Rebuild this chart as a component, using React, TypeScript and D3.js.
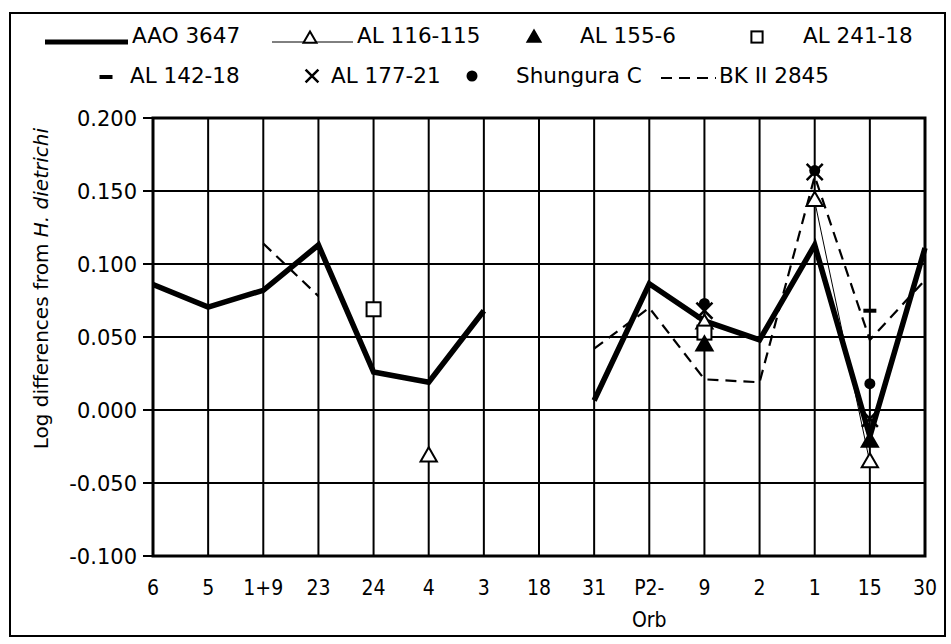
import React from 'react';
import * as d3 from 'd3';

// categories along the x axis (second line of a label after "-")
const categories = ['6', '5', '1+9', '23', '24', '4', '3', '18', '31', 'P2-Orb', '9', '2', '1', '15', '30'];
const yTicks = [-0.1, -0.05, 0, 0.05, 0.1, 0.15, 0.2];

// series values, one per category (null = no value)
const aao3647 = [0.086, 0.0705, 0.082, 0.113, 0.026, 0.019, 0.068, null, 0.0065, 0.0865, 0.061, 0.048, 0.113, -0.018, 0.111];
const bk2845 = [null, null, 0.114, 0.078, null, null, null, null, 0.042, 0.07, 0.021, 0.019, 0.16, 0.048, 0.089];
const al116_115 = [null, null, null, null, null, -0.032, null, null, null, null, 0.059, null, 0.143, -0.036, null];
const al155_6 = [null, null, null, null, null, null, null, null, null, null, 0.044, null, null, -0.022, null];
const al241_18 = [null, null, null, null, 0.069, null, null, null, null, null, 0.053, null, null, null, null];
const al142_18 = [null, null, null, null, null, null, null, null, null, null, null, null, null, 0.068, null];
const al177_21 = [null, null, null, null, null, null, null, null, null, null, 0.068, null, 0.163, -0.006, null];
const shunguraC = [null, null, null, null, null, null, null, null, null, null, 0.073, null, 0.164, 0.018, null];

const W = 951;
const H = 644;
const plot = { left: 153, right: 925, top: 118, bottom: 556 };
const font = '"DejaVu Sans", sans-serif';

function Marker({ kind, x, y, small }) {
  const k = small ? 0.8 : 1;
  if (kind === 'triOpen' || kind === 'triFilled') {
    const p = d3.symbol(d3.symbolTriangle, 115 * k * k)();
    return <path d={p} transform={`translate(${x},${y})`} fill={kind === 'triFilled' ? '#000' : '#fff'} stroke="#000" strokeWidth={2} />;
  }
  if (kind === 'square') {
    const s = 14 * k;
    return <rect x={x - s / 2} y={y - s / 2} width={s} height={s} fill="#fff" stroke="#000" strokeWidth={2} />;
  }
  if (kind === 'dot') {
    return <circle cx={x} cy={y} r={5.5 * k} fill="#000" />;
  }
  if (kind === 'dash') {
    return <rect x={x - 6.5} y={y - 2} width={13} height={4} fill="#000" />;
  }
  if (kind === 'x') {
    const p = d3.symbol(d3.symbolTimes, 170 * k * k)();
    return <path d={p} transform={`translate(${x},${y})`} fill="none" stroke="#000" strokeWidth={2.5} />;
  }
  return null;
}

export default function App() {
  const x = d3.scalePoint().domain(categories).range([plot.left, plot.right]);
  const y = d3.scaleLinear().domain([-0.1, 0.2]).range([plot.bottom, plot.top]);
  const fmt = (t) => d3.format('.3f')(t).replace('\u2212', '-');

  const line = d3.line()
    .defined((d) => d != null)
    .x((d, i) => x(categories[i]))
    .y((d) => y(d));

  const pointSeries = [
    { values: al116_115, kind: 'triOpen' },
    { values: al241_18, kind: 'square' },
    { values: al155_6, kind: 'triFilled' },
    { values: al142_18, kind: 'dash' },
    { values: al177_21, kind: 'x' },
    { values: shunguraC, kind: 'dot' },
  ];

  return (
    <svg width={W} height={H} style={{ position: 'absolute', left: 0, top: 0, background: '#fff' }}>
      <rect x={10} y={13} width={935} height={623} fill="#fff" stroke="#000" strokeWidth={2} />

      {/* legend */}
      <g fontFamily={font} fontSize={21.5} fill="#000">
        <line x1={45} x2={128} y1={42} y2={42} stroke="#000" strokeWidth={5} />
        <text x={132} y={43}>AAO 3647</text>
        <line x1={272} x2={353} y1={42} y2={42} stroke="#000" strokeWidth={1} />
        <Marker kind="triOpen" x={310} y={39} small />
        <text x={357} y={43}>AL 116-115</text>
        <Marker kind="triFilled" x={534} y={38} small />
        <text x={580} y={43}>AL 155-6</text>
        <Marker kind="square" x={757} y={37} small />
        <text x={803} y={43}>AL 241-18</text>

        <Marker kind="dash" x={106} y={77} />
        <text x={130} y={83}>AL 142-18</text>
        <Marker kind="x" x={312} y={76} small />
        <text x={331} y={83}>AL 177-21</text>
        <Marker kind="dot" x={472} y={76} />
        <text x={516} y={83}>Shungura C</text>
        <line x1={661} x2={716} y1={78} y2={78} stroke="#000" strokeWidth={2.2} strokeDasharray="11 7" />
        <text x={719} y={83}>BK II 2845</text>
      </g>

      {/* grid */}
      <g stroke="#000" strokeWidth={2}>
        {yTicks.map((t) => (
          <line key={'h' + t} x1={plot.left - 10} x2={plot.right} y1={y(t)} y2={y(t)} />
        ))}
        {categories.map((c) => (
          <line key={'v' + c} x1={x(c)} x2={x(c)} y1={plot.top} y2={plot.bottom} />
        ))}
      </g>
      <rect x={plot.left} y={plot.top} width={plot.right - plot.left} height={plot.bottom - plot.top} fill="none" stroke="#000" strokeWidth={3} />

      {/* y axis */}
      <g fontFamily={font} fontSize={21} textAnchor="end" fill="#000">
        {yTicks.map((t) => (
          <text key={t} x={137} y={y(t)} dy="0.36em">{fmt(t)}</text>
        ))}
      </g>
      <text transform="translate(48,128) rotate(-90)" textAnchor="end" fontFamily={font} fontSize={20} fill="#000">
        Log differences from <tspan fontStyle="italic">H. dietrichi</tspan>
      </text>

      {/* x axis */}
      <g fontFamily='"DejaVu Sans Condensed", "DejaVu Sans", sans-serif' fontSize={21} textAnchor="middle" fill="#000">
        {categories.map((c) => {
          const parts = c === 'P2-Orb' ? ['P2-', 'Orb'] : [c];
          return (
            <text key={c} x={x(c)} y={595}>
              {parts.map((p, i) => (
                <tspan key={i} x={x(c)} dy={i === 0 ? 0 : 32}>{p}</tspan>
              ))}
            </text>
          );
        })}
      </g>

      {/* lines */}
      <path d={line(bk2845)} fill="none" stroke="#000" strokeWidth={2.2} strokeDasharray="11 7" />
      <path d={line(al116_115)} fill="none" stroke="#000" strokeWidth={1} />
      <path d={line(aao3647)} fill="none" stroke="#000" strokeWidth={5.5} />

      {/* markers */}
      {pointSeries.map((s) =>
        s.values.map((v, i) =>
          v == null ? null : <Marker key={s.kind + i} kind={s.kind} x={x(categories[i])} y={y(v)} />
        )
      )}
    </svg>
  );
}
